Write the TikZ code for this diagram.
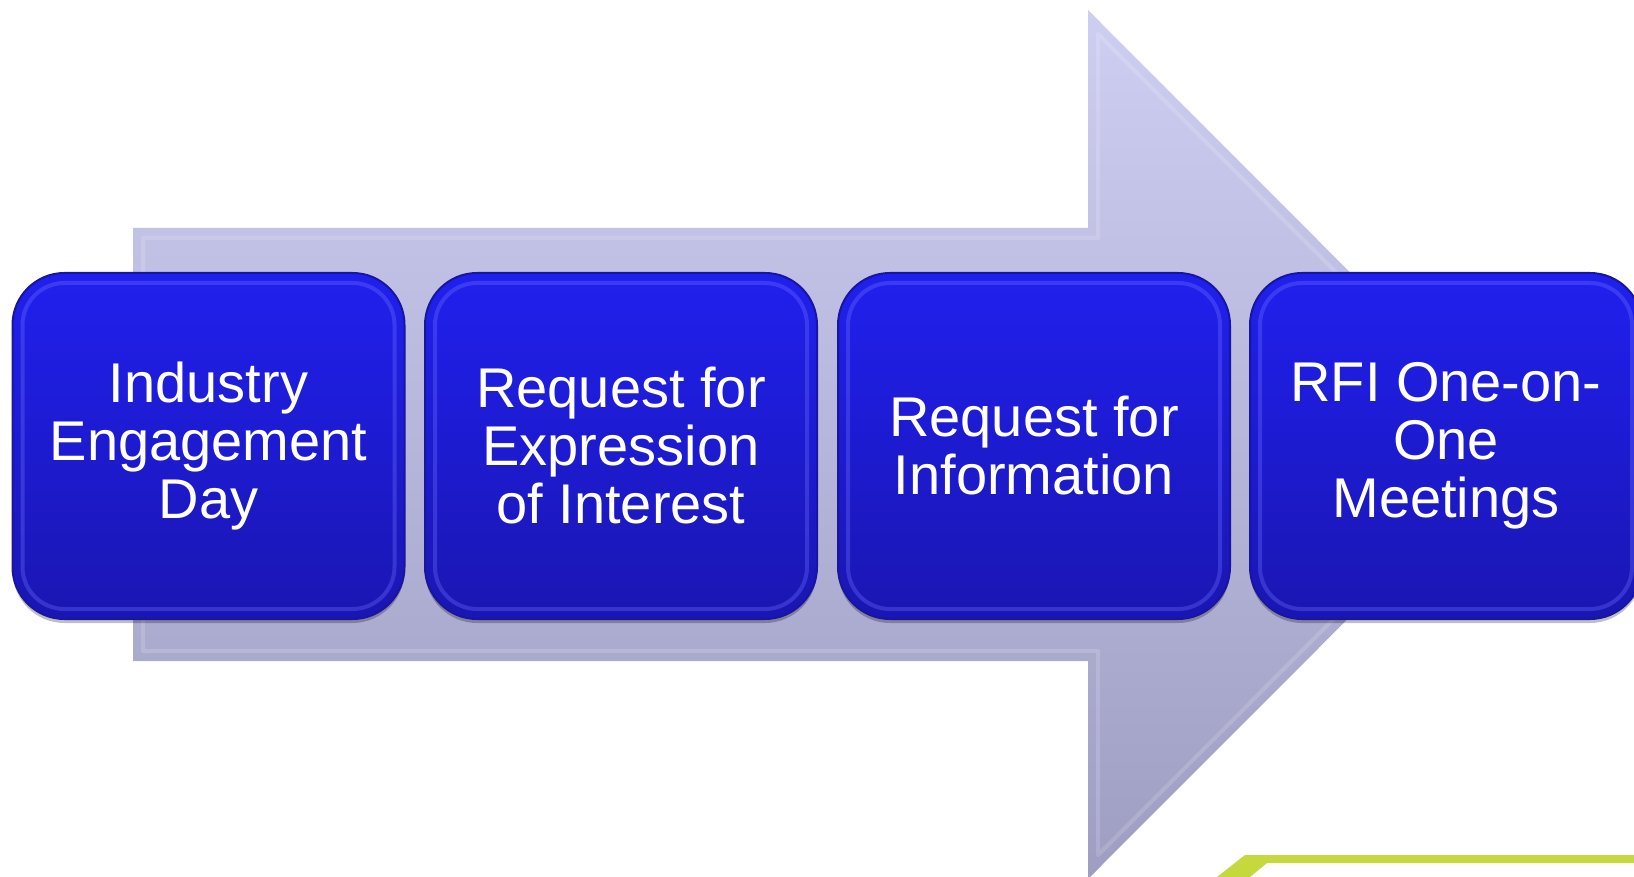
\documentclass[tikz,border=0pt]{standalone}
\usepackage{fontspec}
\setmainfont{Liberation Sans}
\usetikzlibrary{shadows}
\definecolor{boxtop}{RGB}{32,32,238}
\definecolor{boxbot}{RGB}{26,22,178}
\definecolor{boxedge}{RGB}{24,22,160}
\definecolor{boxrim}{RGB}{110,110,255}
\definecolor{arrtop}{RGB}{206,206,242}
\definecolor{arrbot}{RGB}{158,158,194}
\definecolor{lime}{RGB}{197,217,62}
\tikzset{
  stepbox/.style={draw=boxedge, line width=2pt, rounded corners=52pt,
    minimum width=392pt, minimum height=346pt, inner sep=0pt,
    top color=boxtop, bottom color=boxbot, text=white, align=center,
    font=\fontsize{56}{58}\selectfont,
    drop shadow={shadow xshift=0pt, shadow yshift=-4pt, opacity=0.25, fill=black}},
  bevel/.style={draw=boxrim, draw opacity=0.35, line width=4pt, rounded corners=42pt},
  arrowbody/.style={top color=arrtop, bottom color=arrbot},
  arrowbevel/.style={draw=white, draw opacity=0.15, line width=4pt, line join=round},
}
\begin{document}
\begin{tikzpicture}[x=1pt,y=-1pt]
\useasboundingbox (0,0) rectangle (1634,877);
\clip (0,0) rectangle (1634,877);
\fill[white] (0,0) rectangle (1634,877);
% big arrow
\path[arrowbody] (133,228) -- (1088,228) -- (1088,10) -- (1522,444.5) -- (1088,879) -- (1088,661) -- (133,661) -- cycle;
\draw[arrowbevel] (143,238) -- (1098,238) -- (1098,34) -- (1508,444.5) -- (1098,855) -- (1098,651) -- (143,651) -- cycle;
% green stripe
\fill[lime] (1217,877) -- (1245,855) -- (1634,855) -- (1634,863) -- (1267,863) -- (1250,877) -- cycle;
% boxes
\node[stepbox] (a) at (208.5,446) {Industry\\Engagement\\Day};
\node[stepbox] (b) at (621,446) {Request for\\Expression\\of Interest};
\node[stepbox] (c) at (1034,446) {Request for\\Information};
\node[stepbox] (d) at (1446,446) {RFI One-on-\\One\\Meetings};
\foreach \n in {a,b,c,d}{
  \draw[bevel] ([shift={(11pt,-11pt)}]\n.north west) rectangle ([shift={(-11pt,11pt)}]\n.south east);
}
\end{tikzpicture}
\end{document}
